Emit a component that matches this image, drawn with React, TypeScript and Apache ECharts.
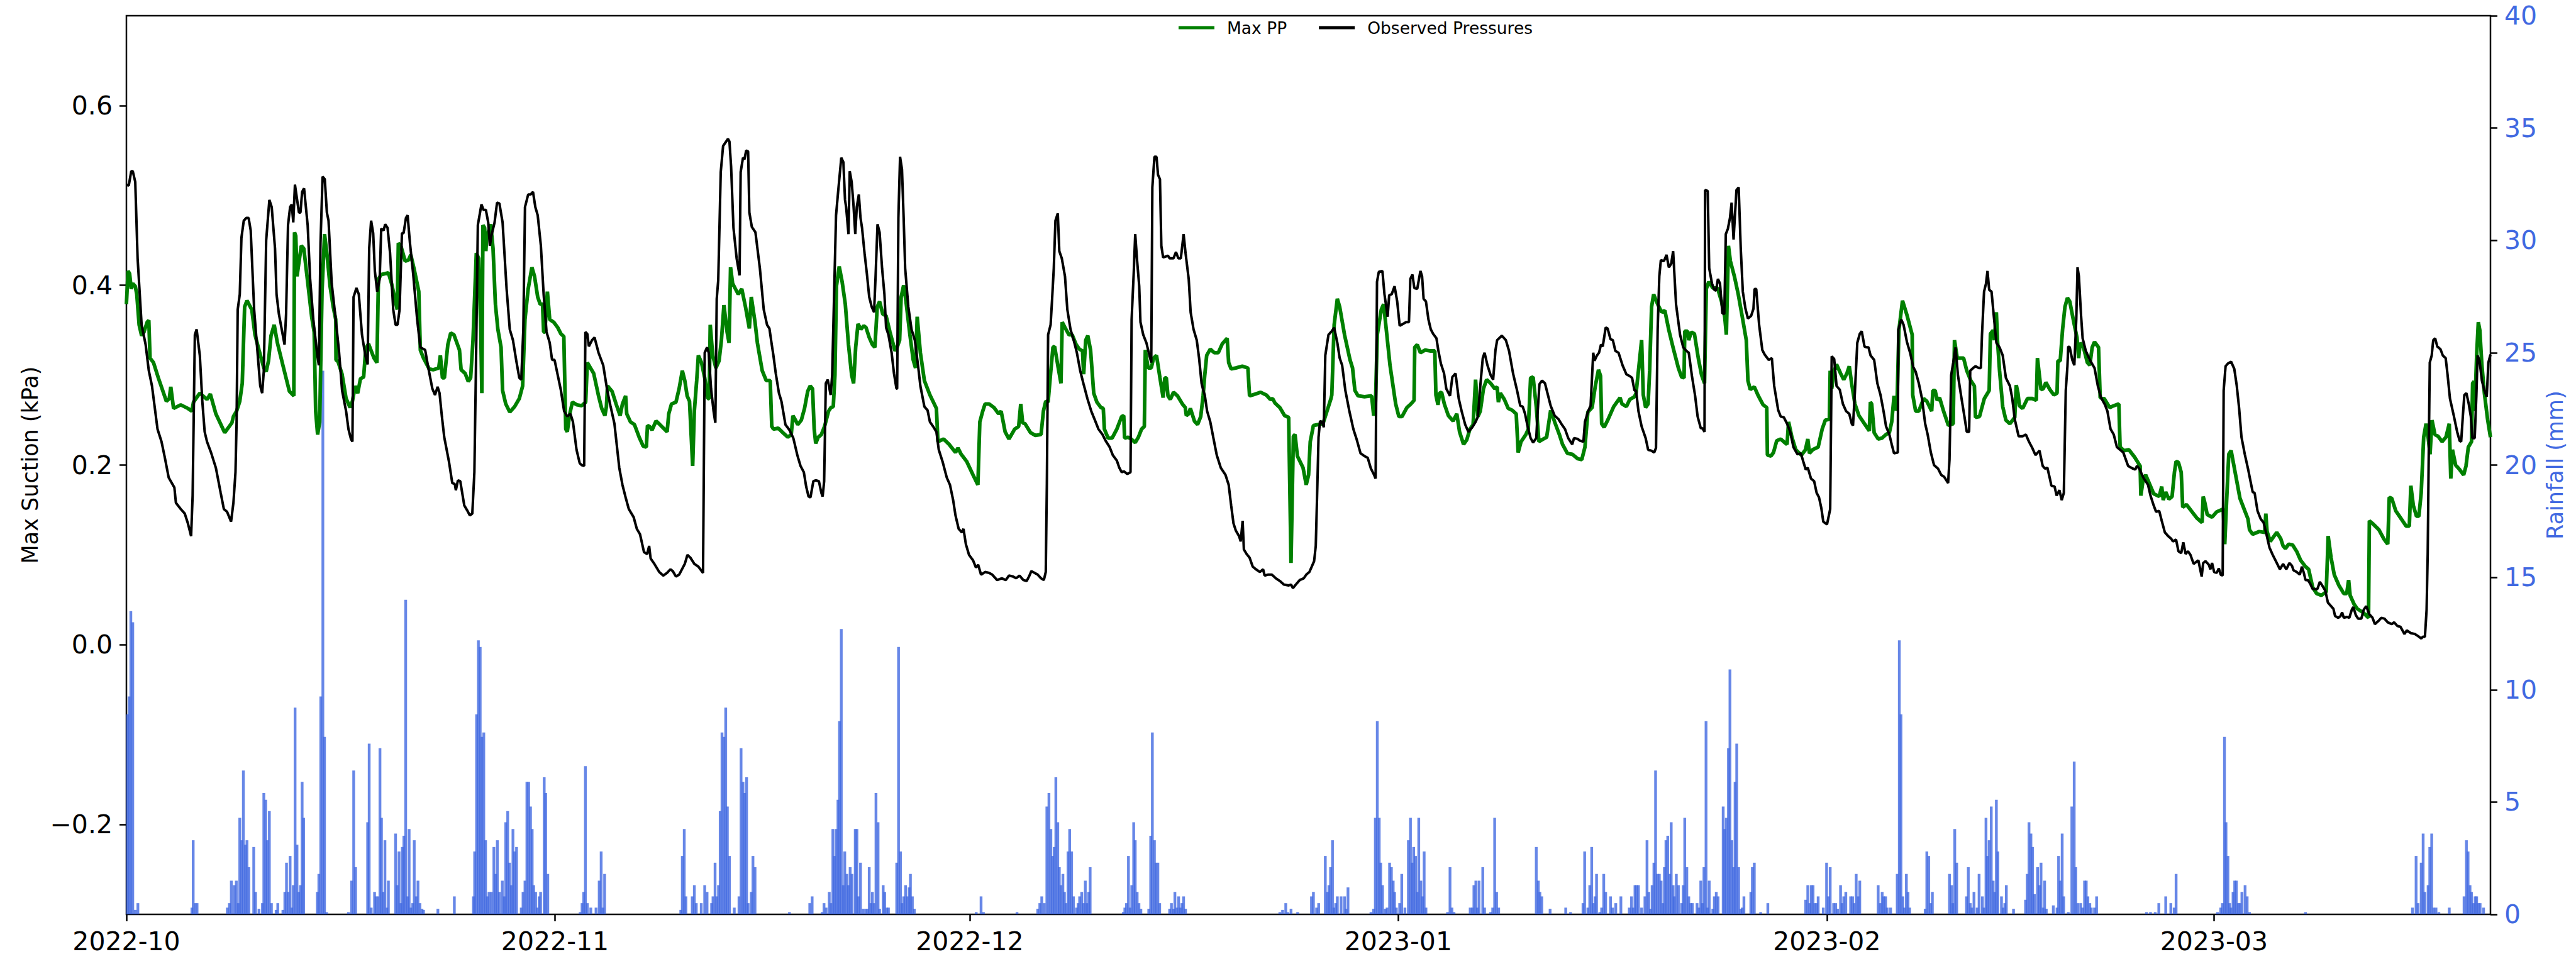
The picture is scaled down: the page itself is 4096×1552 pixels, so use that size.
import React, { useEffect, useRef } from "react";
import * as echarts from "echarts";

// x values are days since 2022-10-01 00:00
const monthTickDays = [0, 31, 61, 92, 123, 151];
const monthTickLabels = ["2022-10", "2022-11", "2022-12", "2023-01", "2023-02", "2023-03"];
const leftTicks = [-0.2, 0, 0.2, 0.4, 0.6];
const rightTicks = [0, 5, 10, 15, 20, 25, 30, 35, 40];

const observedPressures: [number, number][] = [
[0,0.512],[0.17,0.511],[0.35,0.527],[0.46,0.527],[0.64,0.515],[0.81,0.43],[1.1,0.356],[1.39,0.334],[1.62,0.305],[1.85,0.288],[2.25,0.24],[2.54,0.226],[2.77,0.209],[3.06,0.186],[3.47,0.175],[3.58,0.158],[3.93,0.151],[4.22,0.146],[4.45,0.135],[4.68,0.121],[4.79,0.166],[4.95,0.345],[5.08,0.351],[5.31,0.322],[5.49,0.271],[5.66,0.237],[5.83,0.226],[6.12,0.214],[6.47,0.197],[6.82,0.169],[7.05,0.151],[7.28,0.148],[7.57,0.137],[7.74,0.158],[7.89,0.192],[7.97,0.248],[8.05,0.373],[8.2,0.39],[8.32,0.453],[8.49,0.472],[8.67,0.475],[8.84,0.475],[8.99,0.461],[9.24,0.373],[9.47,0.328],[9.68,0.288],[9.82,0.28],[9.94,0.305],[10.11,0.45],[10.34,0.495],[10.51,0.487],[10.75,0.441],[10.86,0.39],[11.03,0.368],[11.44,0.334],[11.55,0.368],[11.69,0.467],[11.84,0.487],[11.96,0.49],[12.07,0.47],[12.19,0.512],[12.48,0.481],[12.59,0.481],[12.71,0.504],[12.85,0.508],[13.11,0.467],[13.29,0.407],[13.52,0.362],[13.81,0.322],[13.92,0.311],[14.04,0.447],[14.19,0.521],[14.35,0.518],[14.5,0.481],[14.62,0.472],[14.85,0.402],[15.14,0.362],[15.37,0.328],
[15.6,0.283],[15.89,0.26],[16.06,0.24],[16.24,0.229],[16.35,0.226],[16.43,0.387],[16.64,0.397],[16.81,0.39],[17.04,0.345],[17.28,0.322],[17.45,0.312],[17.56,0.441],[17.7,0.472],[17.85,0.458],[17.97,0.416],[18.14,0.393],[18.32,0.407],[18.43,0.463],[18.6,0.461],[18.72,0.468],[18.89,0.464],[19.07,0.436],[19.3,0.373],[19.47,0.356],[19.61,0.356],[19.76,0.373],[19.93,0.458],[20.05,0.458],[20.22,0.475],[20.34,0.478],[20.51,0.447],[20.74,0.413],[21.03,0.362],[21.26,0.331],[21.61,0.328],[21.84,0.308],[22.13,0.285],[22.32,0.278],[22.51,0.287],[22.65,0.28],[22.82,0.254],[22.99,0.231],[23.34,0.203],[23.57,0.18],[23.75,0.179],[23.83,0.172],[23.98,0.183],[24.15,0.182],[24.44,0.155],[24.67,0.149],[24.84,0.144],[25.02,0.146],[25.17,0.192],[25.28,0.305],[25.42,0.467],[25.68,0.49],[25.83,0.484],[26,0.484],[26.17,0.47],[26.29,0.444],[26.4,0.455],[26.63,0.47],[26.81,0.492],[26.98,0.491],[27.21,0.47],[27.5,0.396],[27.73,0.351],[27.96,0.339],[28.19,0.317],[28.42,0.297],[28.56,0.295],[28.71,0.351],[28.83,0.487],[29.06,0.501],[29.23,0.501],[29.41,0.504],[29.58,0.487],[29.75,0.478],[29.98,0.444],[30.18,0.39],[30.39,0.348],[30.62,0.336],[30.79,0.317],[30.97,0.317],
[31.2,0.3],[31.43,0.283],[31.66,0.26],[31.89,0.254],[32.12,0.257],[32.3,0.248],[32.56,0.217],[32.79,0.202],[32.93,0.2],[33.11,0.199],[33.2,0.348],[33.34,0.346],[33.45,0.332],[33.68,0.339],[33.86,0.342],[34.15,0.325],[34.49,0.311],[34.78,0.283],[35.01,0.266],[35.3,0.246],[35.65,0.197],[35.88,0.178],[36.11,0.164],[36.34,0.151],[36.69,0.142],[36.92,0.129],[37.15,0.123],[37.44,0.103],[37.67,0.101],[37.81,0.11],[37.92,0.096],[38.19,0.09],[38.54,0.081],[38.83,0.077],[39.11,0.08],[39.35,0.084],[39.52,0.082],[39.75,0.076],[39.98,0.078],[40.39,0.09],[40.58,0.1],[40.79,0.097],[41.08,0.09],[41.37,0.087],[41.71,0.08],[41.77,0.203],[41.83,0.325],[42,0.331],[42.12,0.325],[42.29,0.285],[42.47,0.26],[42.6,0.247],[42.7,0.385],[42.81,0.406],[42.99,0.526],[43.16,0.555],[43.51,0.563],[43.62,0.56],[43.74,0.532],[43.91,0.464],[44.14,0.43],[44.35,0.411],[44.43,0.526],[44.6,0.542],[44.7,0.54],[44.83,0.55],[44.97,0.549],[45.06,0.481],[45.24,0.465],[45.5,0.459],[45.82,0.419],[46.1,0.373],[46.34,0.356],[46.51,0.352],[46.68,0.334],
[46.8,0.322],[46.97,0.302],[47.2,0.28],[47.38,0.271],[47.67,0.245],[47.96,0.239],[48.24,0.23],[48.53,0.211],[48.76,0.199],[49,0.192],[49.17,0.176],[49.34,0.165],[49.48,0.164],[49.69,0.182],[49.86,0.183],[50.09,0.182],[50.27,0.169],[50.36,0.165],[50.47,0.182],[50.59,0.291],[50.73,0.295],[50.94,0.278],[51.05,0.3],[51.19,0.39],[51.33,0.478],[51.48,0.504],[51.71,0.542],[51.86,0.537],[51.98,0.495],[52.06,0.487],[52.23,0.457],[52.32,0.527],[52.46,0.515],[52.58,0.492],[52.72,0.457],[52.83,0.487],[52.98,0.501],[53.1,0.475],[53.21,0.464],[53.39,0.436],[53.56,0.413],[53.73,0.387],[53.91,0.376],[54.08,0.37],[54.19,0.41],[54.33,0.468],[54.48,0.459],[54.66,0.419],[54.83,0.39],[54.95,0.353],[55.12,0.345],[55.35,0.325],[55.52,0.302],[55.7,0.285],[55.75,0.285],[55.84,0.475],[55.96,0.543],[56.1,0.529],[56.22,0.475],[56.33,0.419],[56.56,0.376],[56.79,0.351],[57.03,0.339],[57.26,0.311],[57.43,0.288],[57.72,0.265],[57.95,0.261],[58.12,0.248],[58.35,0.243],[58.59,0.237],[58.76,0.217],[59.05,0.203],[59.34,0.186],[59.57,0.178],[59.8,0.161],[59.97,0.144],[60.2,0.129],[60.43,0.125],[60.55,0.129],[60.72,0.112],[60.95,0.1],[61.24,0.094],[61.45,0.086],[61.61,0.089],[61.82,0.078],[62.11,0.081],
[62.4,0.08],[62.63,0.078],[62.98,0.072],[63.32,0.074],[63.61,0.072],[63.84,0.077],[64.13,0.076],[64.36,0.074],[64.6,0.077],[64.88,0.072],[65.12,0.071],[65.29,0.076],[65.46,0.082],[65.69,0.08],[65.92,0.078],[66.16,0.074],[66.36,0.072],[66.5,0.081],[66.58,0.18],[66.67,0.345],[66.85,0.356],[66.96,0.385],[67.08,0.419],[67.2,0.472],[67.37,0.48],[67.48,0.438],[67.66,0.43],[67.89,0.41],[68.06,0.373],[68.29,0.351],[68.52,0.339],[68.75,0.325],[68.99,0.305],[69.22,0.291],[69.51,0.274],[69.79,0.26],[70.08,0.249],[70.31,0.24],[70.6,0.234],[70.83,0.227],[71.12,0.22],[71.35,0.211],[71.64,0.205],[71.82,0.197],[71.99,0.192],[72.16,0.193],[72.39,0.19],[72.63,0.192],[72.71,0.362],[72.86,0.413],[72.97,0.457],[73.11,0.427],[73.26,0.399],[73.35,0.359],[73.55,0.345],[73.78,0.336],[73.95,0.325],[74.13,0.314],[74.21,0.509],[74.36,0.543],[74.51,0.543],[74.62,0.523],[74.76,0.518],[74.86,0.444],[74.99,0.431],[75.34,0.433],[75.46,0.43],[75.74,0.43],[75.92,0.437],[76.09,0.43],[76.27,0.43],[76.47,0.457],[76.61,0.436],[76.84,0.407],[76.98,0.37],[77.19,0.351],[77.42,0.339],[77.59,0.319],[77.77,0.291],[77.88,0.284],
[78,0.278],[78.17,0.26],[78.4,0.248],[78.64,0.229],[78.87,0.211],[79.16,0.197],[79.5,0.189],[79.73,0.178],[79.91,0.155],[80.08,0.135],[80.25,0.127],[80.48,0.121],[80.6,0.115],[80.74,0.138],[80.83,0.106],[81.03,0.101],[81.24,0.097],[81.47,0.087],[81.7,0.084],[81.99,0.081],[82.22,0.084],[82.33,0.077],[82.56,0.078],[82.85,0.078],[83.14,0.074],[83.43,0.071],[83.72,0.067],[84.07,0.066],[84.24,0.067],[84.38,0.063],[84.59,0.067],[84.87,0.072],[85.16,0.074],[85.34,0.078],[85.57,0.081],[85.74,0.087],[85.91,0.093],[86.03,0.11],[86.15,0.18],[86.23,0.231],[86.34,0.249],[86.49,0.248],[86.61,0.242],[86.72,0.322],[86.95,0.345],[87.19,0.349],[87.36,0.353],[87.59,0.336],[87.76,0.319],[87.94,0.311],[88.17,0.283],[88.46,0.26],[88.75,0.24],[88.98,0.229],[89.27,0.213],[89.55,0.21],[89.79,0.208],[90.02,0.196],[90.25,0.189],[90.36,0.185],[90.46,0.404],[90.59,0.415],[90.85,0.416],[91,0.39],[91.23,0.365],[91.34,0.389],[91.52,0.39],[91.73,0.399],[91.92,0.382],[92.1,0.355],[92.33,0.357],[92.56,0.359],[92.77,0.359],[92.87,0.407],[93.02,0.412],[93.16,0.397],[93.37,0.396],
[93.6,0.416],[93.72,0.41],[93.83,0.385],[94,0.382],[94.18,0.362],[94.35,0.351],[94.52,0.346],[94.76,0.341],[94.89,0.328],[95.08,0.313],[95.31,0.302],[95.47,0.285],[95.74,0.277],[95.91,0.298],[96.14,0.302],[96.37,0.274],[96.58,0.26],[96.84,0.245],[97.07,0.237],[97.35,0.242],[97.59,0.248],[97.76,0.254],[97.93,0.288],[98.11,0.319],[98.24,0.325],[98.45,0.311],[98.68,0.3],[98.86,0.295],[99.03,0.328],[99.15,0.339],[99.49,0.344],[99.78,0.339],[100.01,0.327],[100.3,0.302],[100.59,0.283],[100.82,0.266],[101,0.265],[101.17,0.257],[101.34,0.244],[101.57,0.23],[101.75,0.225],[101.98,0.23],[102.06,0.254],[102.21,0.29],[102.4,0.294],[102.61,0.291],[102.79,0.28],[103.02,0.266],[103.31,0.255],[103.59,0.251],[103.83,0.245],[104.06,0.24],[104.29,0.23],[104.58,0.223],[104.71,0.23],[104.98,0.229],[105.15,0.227],[105.39,0.226],[105.5,0.248],[105.73,0.26],[105.91,0.266],[106.1,0.325],[106.19,0.316],[106.37,0.322],[106.52,0.325],[106.66,0.334],[106.79,0.332],[107,0.353],[107.14,0.352],[107.35,0.34],[107.52,0.339],[107.7,0.327],[107.93,0.325],[108.22,0.311],[108.5,0.301],[108.74,0.299],[108.91,0.297],[109.08,0.283],
[109.2,0.283],[109.37,0.26],[109.6,0.243],[109.89,0.23],[110.07,0.217],[110.3,0.216],[110.51,0.214],[110.64,0.219],[110.76,0.351],[110.88,0.41],[110.99,0.428],[111.22,0.427],[111.4,0.434],[111.57,0.42],[111.74,0.424],[111.88,0.438],[112.09,0.379],[112.38,0.345],[112.61,0.331],[112.84,0.327],[113.01,0.325],[113.24,0.299],[113.47,0.277],[113.65,0.254],[113.88,0.241],[114,0.241],[114.15,0.237],[114.19,0.506],[114.38,0.505],[114.49,0.419],[114.69,0.402],[114.86,0.395],[114.98,0.394],[115.12,0.407],[115.27,0.402],[115.44,0.369],[115.58,0.368],[115.69,0.457],[115.84,0.463],[115.99,0.475],[116.11,0.492],[116.25,0.451],[116.46,0.506],[116.62,0.509],[116.77,0.441],[116.92,0.393],[117.11,0.374],[117.29,0.363],[117.52,0.366],[117.69,0.374],[117.77,0.396],[117.89,0.396],[118.1,0.356],[118.33,0.328],[118.5,0.323],[118.79,0.317],[119.02,0.319],[119.19,0.288],[119.48,0.261],[119.66,0.254],[119.89,0.253],[120.12,0.246],[120.35,0.237],[120.58,0.22],[120.87,0.212],[121.12,0.213],[121.31,0.203],[121.47,0.195],[121.62,0.197],[121.85,0.185],[122.08,0.182],[122.26,0.169],[122.43,0.164],[122.6,0.152],[122.74,0.137],[123.01,0.134],[123.24,0.151],[123.35,0.321],[123.53,0.318],[123.7,0.288],[123.93,0.284],[124.16,0.268],[124.39,0.26],[124.62,0.257],
[124.8,0.246],[124.89,0.244],[125.03,0.282],[125.2,0.336],[125.38,0.346],[125.52,0.349],[125.72,0.332],[125.84,0.331],[126.01,0.331],[126.16,0.322],[126.42,0.317],[126.65,0.291],[126.88,0.278],[127.11,0.259],[127.28,0.243],[127.52,0.234],[127.69,0.223],[127.86,0.213],[128.13,0.214],[128.17,0.351],[128.38,0.362],[128.55,0.356],[128.79,0.337],[129.02,0.325],[129.25,0.309],[129.42,0.304],[129.65,0.291],[129.88,0.274],[130.11,0.246],[130.29,0.234],[130.52,0.214],[130.75,0.2],[131.04,0.196],[131.27,0.189],[131.48,0.187],[131.77,0.18],[131.87,0.206],[131.99,0.3],[132.14,0.314],[132.31,0.331],[132.48,0.3],[132.71,0.277],[132.95,0.254],[133.12,0.237],[133.29,0.237],[133.37,0.305],[133.58,0.308],[133.75,0.31],[133.99,0.308],[134.14,0.308],[134.22,0.345],[134.37,0.393],[134.51,0.402],[134.62,0.416],[134.74,0.395],[134.91,0.393],[135.08,0.365],[135.26,0.336],[135.49,0.331],[135.72,0.322],[135.95,0.297],[136.24,0.288],[136.41,0.274],[136.59,0.251],[136.87,0.232],[137.16,0.232],[137.39,0.234],[137.62,0.226],[137.86,0.219],[138.09,0.211],[138.26,0.214],[138.38,0.216],[138.61,0.199],[138.78,0.196],[138.95,0.197],[139.13,0.185],[139.24,0.177],[139.47,0.176],[139.62,0.166],[139.82,0.172],[139.99,0.161],[140.14,0.169],[140.28,0.283],
[140.4,0.31],[140.46,0.332],[140.57,0.331],[140.75,0.317],[140.9,0.311],[141.04,0.362],[141.13,0.42],[141.23,0.41],[141.38,0.368],[141.5,0.341],[141.73,0.327],[142.02,0.317],[142.36,0.308],[142.6,0.288],[142.83,0.275],[143.12,0.267],[143.29,0.26],[143.52,0.24],[143.75,0.234],[143.98,0.22],[144.21,0.217],[144.44,0.214],[144.79,0.199],[145.14,0.196],[145.31,0.195],[145.43,0.199],[145.6,0.196],[145.89,0.186],[146.06,0.182],[146.23,0.178],[146.41,0.166],[146.64,0.155],[146.81,0.148],[147.04,0.149],[147.22,0.138],[147.45,0.125],[147.68,0.121],[147.91,0.118],[148.03,0.115],[148.26,0.117],[148.43,0.104],[148.63,0.102],[148.78,0.114],[148.95,0.101],[149.12,0.104],[149.3,0.1],[149.53,0.09],[149.87,0.094],[150.11,0.076],[150.22,0.091],[150.39,0.093],[150.63,0.089],[150.74,0.084],[150.86,0.091],[151.01,0.081],[151.2,0.08],[151.35,0.085],[151.49,0.078],[151.63,0.077],[151.7,0.283],[151.84,0.31],[152.01,0.313],[152.24,0.315],[152.47,0.307],[152.65,0.288],[152.82,0.263],[152.99,0.231],[153.23,0.212],[153.46,0.196],[153.63,0.183],[153.8,0.17],[153.94,0.169],[154.15,0.149],[154.38,0.14],[154.59,0.136],[154.78,0.124],[155.02,0.108],[155.25,0.1],[155.48,0.093],[155.77,0.084],
[156,0.09],[156.23,0.084],[156.46,0.091],[156.64,0.088],[156.75,0.083],[156.98,0.081],[157.21,0.078],[157.36,0.087],[157.5,0.08],[157.62,0.072],[157.79,0.072],[157.96,0.068],[158.14,0.062],[158.31,0.062],[158.48,0.062],[158.66,0.07],[158.83,0.066],[159.06,0.06],[159.24,0.047],[159.47,0.043],[159.64,0.04],[159.76,0.032],[159.99,0.03],[160.16,0.032],[160.27,0.036],[160.39,0.03],[160.62,0.031],[160.79,0.03],[160.97,0.039],[161.08,0.042],[161.26,0.033],[161.43,0.029],[161.66,0.029],[161.83,0.039],[162.01,0.043],[162.24,0.034],[162.47,0.03],[162.64,0.023],[162.93,0.027],[163.11,0.03],[163.34,0.029],[163.57,0.025],[163.86,0.023],[164.03,0.025],[164.26,0.021],[164.49,0.02],[164.78,0.012],[164.95,0.016],[165.24,0.013],[165.53,0.012],[165.82,0.009],[166,0.007],[166.11,0.009],[166.26,0.009],[166.38,0.039],[166.46,0.101],[166.54,0.22],[166.61,0.314],[166.75,0.322],[166.86,0.339],[167,0.341],[167.15,0.332],[167.38,0.329],[167.55,0.322],[167.76,0.319],[167.9,0.3],[168.07,0.274],[168.36,0.254],[168.59,0.237],[168.77,0.227],[168.88,0.226],[169,0.254],[169.11,0.278],[169.26,0.28],[169.43,0.268],[169.58,0.254],[169.69,0.23],[169.86,0.23],[169.98,0.277],[170.07,0.322],[170.21,0.316],[170.38,0.294],[170.56,0.283],[170.73,0.276],[170.85,0.314],[171,0.323]
];

const maxPP: [number, number][] = [
[0,0.379],[0.12,0.416],[0.23,0.413],[0.35,0.396],[0.46,0.402],[0.64,0.399],[0.75,0.39],[0.92,0.356],[1.1,0.344],[1.27,0.348],[1.5,0.359],[1.62,0.361],[1.71,0.319],[1.96,0.314],[2.31,0.297],[2.89,0.271],[3.1,0.274],[3.21,0.287],[3.41,0.263],[3.93,0.267],[4.45,0.263],[4.74,0.26],[4.85,0.27],[5.31,0.28],[5.83,0.273],[6.07,0.279],[6.47,0.257],[7.11,0.236],[7.63,0.247],[7.74,0.254],[7.97,0.26],[8.2,0.271],[8.38,0.291],[8.55,0.376],[8.72,0.383],[9.07,0.373],[9.3,0.345],[9.59,0.328],[9.94,0.308],[10.11,0.304],[10.28,0.316],[10.46,0.344],[10.69,0.356],[10.92,0.336],[11.32,0.311],[11.79,0.282],[12.11,0.277],[12.16,0.459],[12.25,0.455],[12.34,0.41],[12.42,0.419],[12.65,0.444],[12.83,0.441],[13.17,0.396],[13.4,0.365],[13.58,0.348],[13.69,0.26],[13.83,0.234],[13.98,0.248],[14.15,0.393],[14.33,0.457],[14.5,0.436],[14.73,0.399],[14.96,0.376],[15.14,0.362],[15.16,0.317],[15.31,0.315],
[15.6,0.301],[15.89,0.274],[16.18,0.264],[16.35,0.271],[16.55,0.288],[16.73,0.28],[16.93,0.296],[17.16,0.298],[17.31,0.329],[17.51,0.335],[17.91,0.319],[18.12,0.314],[18.23,0.407],[18.43,0.412],[18.72,0.413],[18.95,0.414],[19.18,0.402],[19.59,0.373],[19.67,0.447],[19.87,0.443],[20.16,0.427],[20.4,0.428],[20.57,0.434],[20.8,0.419],[21.15,0.393],[21.26,0.328],[21.49,0.319],[21.9,0.307],[22.19,0.306],[22.59,0.308],[22.71,0.322],[22.86,0.297],[23,0.297],[23.25,0.334],[23.46,0.347],[23.69,0.345],[24.09,0.328],[24.21,0.306],[24.5,0.302],[24.73,0.293],[24.9,0.297],[25.07,0.339],[25.31,0.436],[25.48,0.43],[25.63,0.351],[25.71,0.28],[25.79,0.467],[25.91,0.464],[26,0.438],[26.06,0.453],[26.35,0.468],[26.52,0.441],[26.69,0.379],[26.87,0.351],[27.1,0.331],[27.21,0.283],[27.44,0.268],[27.73,0.259],[28.08,0.265],[28.42,0.274],[28.66,0.288],[28.83,0.362],[29.06,0.396],[29.33,0.42],[29.52,0.41],[29.75,0.387],[29.93,0.379],[30.1,0.379],[30.18,0.348],[30.27,0.348],[30.45,0.393],[30.62,0.362],[30.91,0.359],
[31.2,0.353],[31.43,0.346],[31.64,0.343],[31.78,0.24],[31.89,0.237],[32.07,0.257],[32.26,0.27],[32.59,0.267],[32.93,0.266],[33.22,0.27],[33.34,0.314],[33.57,0.308],[33.8,0.302],[34.15,0.277],[34.38,0.263],[34.61,0.255],[34.72,0.265],[34.8,0.288],[35.13,0.282],[35.42,0.268],[35.71,0.255],[35.88,0.268],[36.11,0.277],[36.19,0.257],[36.46,0.248],[36.75,0.245],[37.09,0.231],[37.38,0.221],[37.61,0.22],[37.69,0.244],[37.84,0.243],[38.02,0.239],[38.31,0.249],[38.59,0.245],[39.11,0.237],[39.23,0.257],[39.43,0.268],[39.75,0.27],[39.98,0.285],[40.21,0.305],[40.39,0.294],[40.56,0.277],[40.73,0.271],[40.96,0.199],[41.08,0.26],[41.25,0.294],[41.37,0.322],[41.6,0.314],[41.83,0.297],[42.06,0.274],[42.15,0.274],[42.23,0.356],[42.41,0.322],[42.64,0.308],[42.87,0.316],[43.04,0.339],[43.22,0.378],[43.45,0.348],[43.59,0.336],[43.7,0.42],[43.85,0.402],[44.02,0.397],[44.26,0.39],[44.51,0.396],[44.78,0.376],[45.06,0.352],[45.2,0.387],[45.47,0.359],[45.64,0.336],[45.99,0.305],[46.28,0.294],[46.57,0.294],[46.68,0.243],
[46.8,0.24],[47.15,0.241],[47.49,0.236],[47.84,0.231],[48.09,0.234],[48.21,0.255],[48.36,0.251],[48.56,0.245],[48.82,0.25],[49.05,0.263],[49.28,0.282],[49.46,0.288],[49.63,0.285],[49.75,0.24],[49.86,0.224],[50.04,0.231],[50.27,0.234],[50.5,0.243],[50.79,0.26],[50.96,0.264],[51.13,0.265],[51.25,0.3],[51.36,0.399],[51.56,0.421],[51.77,0.404],[52,0.379],[52.23,0.334],[52.46,0.3],[52.6,0.291],[52.75,0.331],[52.92,0.357],[53.13,0.351],[53.33,0.355],[53.5,0.353],[53.73,0.342],[53.96,0.334],[54.14,0.331],[54.31,0.376],[54.48,0.382],[54.71,0.368],[54.95,0.366],[55.23,0.348],[55.6,0.327],[55.75,0.331],[55.93,0.339],[56.04,0.387],[56.22,0.4],[56.39,0.382],[56.68,0.344],[56.91,0.317],[57.08,0.308],[57.2,0.365],[57.43,0.325],[57.72,0.294],[58.12,0.278],[58.59,0.263],[58.7,0.226],[59.11,0.229],[59.51,0.223],[59.97,0.214],[60.15,0.219],[60.38,0.212],[60.78,0.204],[61.24,0.189],[61.59,0.178],[61.73,0.248],[61.94,0.26],[62.11,0.268],
[62.4,0.268],[62.75,0.264],[63.09,0.257],[63.27,0.26],[63.56,0.237],[63.84,0.229],[64.25,0.24],[64.54,0.243],[64.69,0.268],[64.83,0.247],[65,0.246],[65.4,0.236],[65.75,0.233],[66.16,0.234],[66.33,0.26],[66.5,0.271],[66.67,0.27],[66.85,0.302],[67.02,0.331],[67.14,0.332],[67.37,0.311],[67.6,0.291],[67.69,0.359],[67.89,0.353],[68.18,0.345],[68.41,0.345],[68.7,0.334],[68.93,0.329],[69.16,0.327],[69.24,0.301],[69.39,0.339],[69.54,0.344],[69.74,0.328],[69.97,0.28],[70.2,0.27],[70.49,0.264],[70.66,0.263],[70.74,0.24],[71.01,0.23],[71.3,0.23],[71.64,0.24],[71.99,0.254],[72.14,0.255],[72.2,0.23],[72.45,0.231],[72.68,0.229],[72.97,0.225],[73.2,0.231],[73.43,0.24],[73.63,0.243],[73.7,0.328],[73.9,0.308],[74.13,0.308],[74.3,0.319],[74.51,0.322],[74.76,0.297],[74.99,0.275],[75.11,0.297],[75.22,0.297],[75.34,0.277],[75.51,0.273],[75.74,0.281],[76.03,0.277],[76.38,0.268],[76.59,0.264],[76.67,0.255],[76.84,0.257],[76.96,0.263],[77.25,0.249],[77.48,0.245],[77.71,0.254],[77.88,0.277],
[78,0.3],[78.14,0.322],[78.4,0.329],[78.69,0.325],[78.98,0.325],[79.27,0.335],[79.62,0.341],[79.73,0.314],[79.91,0.307],[80.25,0.308],[80.72,0.31],[81.12,0.308],[81.24,0.277],[81.47,0.278],[82.04,0.281],[82.45,0.278],[82.74,0.273],[82.91,0.274],[83.08,0.269],[83.43,0.264],[83.78,0.255],[84.07,0.253],[84.24,0.091],[84.41,0.232],[84.53,0.234],[84.7,0.21],[85.11,0.197],[85.34,0.178],[85.51,0.189],[85.63,0.226],[85.86,0.244],[86.2,0.245],[86.55,0.246],[86.84,0.26],[87.13,0.274],[87.19,0.278],[87.36,0.356],[87.59,0.385],[87.76,0.376],[88.11,0.345],[88.51,0.317],[88.69,0.308],[88.86,0.283],[89.09,0.277],[89.55,0.276],[90.07,0.277],[90.22,0.255],[90.34,0.263],[90.48,0.345],[90.77,0.373],[90.94,0.379],[91.17,0.345],[91.4,0.311],[91.81,0.268],[92.04,0.254],[92.27,0.254],[92.62,0.264],[92.91,0.268],[93.14,0.272],[93.19,0.331],[93.37,0.334],
[93.6,0.325],[93.95,0.328],[94.29,0.327],[94.64,0.327],[94.72,0.278],[94.87,0.267],[94.99,0.28],[95.13,0.281],[95.33,0.268],[95.62,0.255],[95.97,0.249],[96.23,0.257],[96.43,0.237],[96.72,0.223],[96.95,0.228],[97.18,0.24],[97.41,0.245],[97.59,0.295],[97.76,0.254],[97.93,0.26],[98.16,0.285],[98.39,0.295],[98.68,0.291],[98.97,0.285],[99.15,0.287],[99.24,0.27],[99.38,0.28],[99.67,0.273],[99.95,0.263],[100.24,0.261],[100.53,0.257],[100.67,0.214],[100.88,0.226],[101.23,0.234],[101.4,0.24],[101.57,0.297],[101.75,0.298],[101.98,0.265],[102.17,0.226],[102.5,0.229],[102.73,0.231],[103.02,0.261],[103.31,0.248],[103.65,0.234],[103.88,0.223],[104.23,0.213],[104.58,0.212],[104.98,0.207],[105.27,0.206],[105.5,0.22],[105.71,0.259],[106.02,0.264],[106.25,0.288],[106.48,0.306],[106.63,0.299],[106.71,0.246],[106.89,0.242],[107.18,0.251],[107.58,0.265],[108.04,0.275],[108.18,0.268],[108.5,0.265],[108.74,0.273],[109.08,0.276],
[109.2,0.28],[109.37,0.305],[109.6,0.339],[109.72,0.278],[109.89,0.264],[110.07,0.268],[110.18,0.305],[110.32,0.376],[110.47,0.39],[110.76,0.379],[111.05,0.37],[111.28,0.372],[111.57,0.35],[111.92,0.328],[112.26,0.308],[112.49,0.298],[112.67,0.297],[112.72,0.349],[112.92,0.349],[113.01,0.339],[113.19,0.348],[113.42,0.346],[113.71,0.318],[113.94,0.3],[114.15,0.291],[114.28,0.396],[114.46,0.404],[114.75,0.397],[115.09,0.397],[115.38,0.382],[115.61,0.365],[115.73,0.345],[115.88,0.444],[116.02,0.427],[116.31,0.41],[116.59,0.39],[116.88,0.365],[117.17,0.339],[117.29,0.294],[117.46,0.284],[117.75,0.287],[118.04,0.277],[118.39,0.267],[118.65,0.264],[118.7,0.211],[118.96,0.21],[119.14,0.214],[119.37,0.227],[119.66,0.229],[119.95,0.225],[120.12,0.223],[120.23,0.248],[120.47,0.231],[120.75,0.217],[121.16,0.211],[121.45,0.217],[121.62,0.229],[121.74,0.213],[121.97,0.217],[122.37,0.22],[122.66,0.24],[122.89,0.25],[123.18,0.251],[123.24,0.305],[123.35,0.285],[123.53,0.305],[123.7,0.312],[123.99,0.302],[124.22,0.295],[124.45,0.302],[124.62,0.31],
[124.8,0.29],[125.03,0.268],[125.32,0.255],[125.72,0.246],[126.07,0.238],[126.15,0.27],[126.24,0.268],[126.42,0.236],[126.71,0.229],[126.99,0.23],[127.28,0.234],[127.52,0.236],[127.69,0.248],[127.86,0.277],[127.94,0.261],[128.07,0.265],[128.21,0.35],[128.47,0.383],[128.79,0.367],[129.17,0.345],[129.21,0.278],[129.42,0.26],[129.65,0.26],[130,0.274],[130.23,0.271],[130.58,0.26],[130.67,0.283],[130.83,0.283],[130.98,0.272],[131.15,0.275],[131.44,0.26],[131.79,0.244],[132.14,0.246],[132.23,0.339],[132.43,0.319],[132.71,0.319],[132.89,0.319],[133.12,0.305],[133.41,0.294],[133.67,0.288],[133.75,0.253],[134.04,0.254],[134.39,0.274],[134.74,0.283],[134.83,0.346],[135.03,0.35],[135.11,0.339],[135.26,0.37],[135.34,0.339],[135.49,0.305],[135.72,0.265],[135.95,0.25],[136.24,0.246],[136.59,0.253],[136.7,0.289],[136.82,0.28],[136.93,0.266],[137.16,0.263],[137.51,0.274],[137.86,0.274],[138.15,0.272],[138.23,0.319],[138.49,0.284],[138.66,0.285],[138.84,0.292],[139.13,0.284],[139.42,0.278],[139.65,0.28],[139.71,0.316],[139.88,0.316],[140.05,0.351],[140.22,0.376],
[140.4,0.386],[140.57,0.382],[140.86,0.359],[141.09,0.342],[141.21,0.319],[141.32,0.336],[141.56,0.331],[141.84,0.314],[142.02,0.311],[142.19,0.331],[142.36,0.337],[142.65,0.331],[142.77,0.275],[143.06,0.274],[143.46,0.264],[143.75,0.266],[144.12,0.268],[144.21,0.22],[144.5,0.216],[144.85,0.217],[145.25,0.209],[145.66,0.199],[145.71,0.166],[145.89,0.185],[146.06,0.189],[146.23,0.183],[146.64,0.168],[147.04,0.165],[147.22,0.176],[147.33,0.161],[147.51,0.17],[147.74,0.162],[147.97,0.165],[148.14,0.192],[148.26,0.204],[148.43,0.203],[148.63,0.192],[148.74,0.153],[149.01,0.156],[149.41,0.148],[149.76,0.141],[150.14,0.136],[150.22,0.165],[150.34,0.158],[150.51,0.145],[150.86,0.142],[151.2,0.148],[151.67,0.151],[151.78,0.112],[151.9,0.155],[152.07,0.212],[152.24,0.216],[152.53,0.192],[152.88,0.163],[153.23,0.149],[153.46,0.14],[153.57,0.128],[153.8,0.123],[154.27,0.126],[154.67,0.125],[154.75,0.146],[154.84,0.126],[155.07,0.115],[155.54,0.125],[155.83,0.118],
[156,0.11],[156.17,0.107],[156.4,0.112],[156.69,0.111],[156.98,0.104],[157.27,0.094],[157.62,0.087],[157.85,0.084],[158.14,0.064],[158.43,0.057],[158.77,0.055],[159.12,0.059],[159.26,0.121],[159.47,0.097],[159.7,0.078],[160.04,0.066],[160.39,0.057],[160.6,0.057],[160.74,0.072],[160.85,0.055],[161.14,0.045],[161.37,0.04],[161.78,0.036],[162.18,0.03],[162.24,0.138],[162.47,0.135],[162.93,0.128],[163.28,0.118],[163.57,0.112],[163.68,0.164],[163.86,0.163],[164.15,0.149],[164.55,0.14],[164.9,0.132],[165.13,0.132],[165.24,0.177],[165.42,0.155],[165.65,0.143],[165.82,0.143],[165.99,0.169],[166.17,0.231],[166.34,0.246],[166.49,0.231],[166.63,0.212],[166.77,0.25],[166.98,0.234],[167.21,0.232],[167.5,0.226],[167.78,0.231],[168.02,0.246],[168.13,0.185],[168.25,0.217],[168.48,0.2],[168.77,0.195],[169.06,0.189],[169.23,0.199],[169.4,0.22],[169.63,0.226],[169.71,0.291],[169.81,0.293],[169.86,0.26],[170,0.322],[170.12,0.359],[170.23,0.35],[170.38,0.311],[170.56,0.28],[170.79,0.251],[171,0.231]
];

const rainfall: [number, number][] = [
[0.08,8.9],[0.2,9.7],[0.32,13.5],[0.46,13.0],[0.64,0.2],[0.83,0.5],[4.74,0.3],[4.83,3.3],[4.97,0.5],[5.11,0.5],[7.3,0.3],[7.45,0.5],[7.59,1.5],[7.8,1.3],[7.95,1.5],[8.09,0.5],[8.2,4.3],[8.34,3.3],[8.46,6.4],[8.61,3.1],[8.72,3.3],[8.86,2.1],[9.21,3.0],[9.34,1.0],[9.59,0.25],[9.84,0.5],[9.94,5.4],[10.08,5.1],[10.19,3.3],[10.34,4.6],[10.49,0.5],[10.83,0.2],[10.95,0.5],[11.32,0.2],[11.46,1.0],[11.58,2.3],[11.7,1.0],[11.84,2.6],[11.96,0.3],[12.07,1.3],[12.2,9.2],[12.34,3.1],[12.46,1.0],[12.59,1.3],[12.71,5.9],[12.82,4.3],[13.81,1.0],[13.92,1.8],[14.06,9.7],[14.21,24.2],[14.33,7.9],[14.48,0.1],
[16.06,0.1],[16.29,1.5],[16.44,6.4],[16.58,2.1],[17.45,4.1],[17.56,7.6],[17.71,0.3],[17.95,1.0],[18.06,0.8],[18.2,0.8],[18.34,7.4],[18.45,4.3],[18.57,1.0],[18.7,3.3],[18.84,0.3],[18.95,1.5],[19.47,3.6],[19.59,1.3],[19.72,2.8],[19.84,0.5],[19.96,3.0],[20.07,3.5],[20.2,14.0],[20.34,0.8],[20.45,3.8],[20.57,0.3],[20.71,0.5],[20.82,3.3],[20.97,0.8],[21.09,1.5],[21.23,0.5],[21.38,0.25],[21.49,0.2],[22.53,0.25],[23.72,0.8],[25.1,0.8],[25.19,2.8],[25.33,8.9],[25.46,12.2],[25.59,11.9],[25.71,7.9],[25.85,8.1],[25.98,3.3],[26.11,0.8],[26.23,1.0],[26.4,1.0],[26.58,3.0],[26.71,1.8],[26.83,3.3],[26.98,1.0],[27.19,1.5],[27.33,0.8],[27.44,4.1],[27.58,4.6],[27.71,2.3],[27.85,1.3],[27.96,3.8],[28.08,2.8],[28.22,3.0],[28.56,0.3],[28.69,1.0],[28.83,1.5],[28.97,5.9],[29.1,5.9],[29.23,4.8],[29.35,3.8],[29.46,1.3],[29.6,1.0],[29.72,0.3],[29.85,0.8],[29.96,1.0],[30.22,6.1],[30.33,5.4],[30.48,1.8],
[32.82,0.1],[32.96,0.5],[33.08,1.0],[33.2,6.6],[33.34,0.5],[33.59,0.3],[33.97,0.3],[34.2,1.5],[34.34,2.8],[34.46,0.3],[34.59,1.8],[40.1,0.2],[40.21,2.6],[40.35,3.8],[40.47,0.8],[40.93,0.8],[41.08,1.3],[41.22,0.5],[41.58,0.5],[41.83,1.3],[42.0,1.0],[42.33,0.5],[42.43,0.8],[42.58,2.3],[42.7,0.8],[42.83,1.3],[42.95,4.6],[43.08,8.1],[43.22,7.9],[43.35,9.2],[43.47,4.8],[43.62,2.6],[43.97,0.3],[44.31,0.8],[44.46,7.4],[44.6,5.9],[44.72,5.4],[44.86,6.1],[44.97,0.5],[45.2,1.0],[45.32,2.6],[45.47,2.1],
[47.96,0.1],[49.43,0.5],[49.6,0.8],[50.32,0.1],[50.46,0.5],[50.61,0.3],[50.84,1.0],[50.96,0.5],[51.1,3.8],[51.21,2.6],[51.34,3.8],[51.47,5.1],[51.58,8.6],[51.71,12.7],[51.85,1.3],[51.96,2.8],[52.11,1.8],[52.23,1.3],[52.35,2.1],[52.48,1.8],[52.72,3.8],[52.84,3.8],[52.96,0.8],[53.1,2.3],[53.29,0.25],[53.48,0.25],[53.62,0.25],[53.73,2.1],[53.85,0.5],[53.96,1.0],[54.08,0.5],[54.22,5.4],[54.37,4.1],[54.48,0.25],[54.74,1.3],[54.85,1.0],[55.0,0.3],[55.12,0.3],[55.72,2.3],[55.85,11.9],[55.99,2.8],[56.1,0.5],[56.22,0.8],[56.36,1.3],[56.48,0.8],[56.62,1.2],[56.71,1.8],[56.85,0.8],[56.99,0.25],[61.47,0.1],[61.82,0.8],[61.99,0.1],
[64.42,0.1],[65.92,0.25],[66.07,0.5],[66.21,0.8],[66.39,0.5],[66.58,4.8],[66.73,5.4],[66.87,3.8],[66.99,2.6],[67.11,3.0],[67.23,6.1],[67.37,4.1],[67.48,2.1],[67.6,1.3],[67.74,1.8],[67.85,1.0],[67.97,0.5],[68.11,2.8],[68.23,3.8],[68.37,2.8],[68.5,0.8],[68.72,0.3],[68.84,0.5],[68.95,0.8],[69.1,1.0],[69.22,0.5],[69.36,1.5],[69.47,0.5],[69.6,1.0],[69.71,2.1],[72.11,0.1],[72.22,0.3],[72.34,0.5],[72.48,2.6],[72.6,0.3],[72.72,1.3],[72.86,4.1],[72.97,3.3],[73.11,1.0],[73.24,0.5],[73.38,0.25],[73.95,0.25],[74.09,3.5],[74.21,8.1],[74.36,3.3],[74.47,2.3],[74.61,2.3],[74.74,0.5],[75.46,0.25],[75.59,0.5],[75.74,0.25],[75.84,1.0],[75.98,0.3],[76.11,0.8],[76.23,0.3],[76.35,0.5],[76.47,0.8],[76.61,0.25],
[83.43,0.1],[83.63,0.2],[83.86,0.5],[84.01,0.1],[84.24,0.25],[84.72,0.1],[85.72,0.8],[85.86,1.0],[86.09,0.3],[86.24,0.5],[86.72,2.6],[86.87,1.0],[86.98,1.3],[87.1,2.1],[87.24,3.3],[87.34,0.3],[87.47,0.5],[87.59,0.8],[87.86,0.8],[88.11,0.8],[88.23,0.25],[88.36,1.2],[90.02,0.1],[90.21,0.25],[90.34,4.3],[90.48,8.6],[90.62,4.3],[90.73,2.3],[90.86,1.3],[91.06,0.25],[91.19,0.3],[91.37,2.3],[91.5,2.1],[91.63,1.5],[91.73,1.0],[91.86,0.3],[92.1,0.5],[92.25,1.8],[92.48,0.3],[92.73,3.3],[92.88,4.3],[93.0,2.3],[93.11,3.0],[93.25,2.6],[93.37,1.0],[93.48,4.3],
[93.63,1.5],[93.75,0.8],[93.87,2.8],[94.0,0.3],[95.56,0.1],[95.74,2.1],[95.88,0.3],[96.03,0.1],[97.2,0.3],[97.36,0.3],[97.47,1.3],[97.61,1.5],[97.72,0.3],[97.84,1.5],[98.11,2.1],[98.24,0.3],[98.68,0.1],[98.83,0.3],[98.97,4.3],[99.11,1.0],[99.26,0.3],[101.98,3.0],[102.13,1.5],[102.24,1.0],[102.38,0.8],[102.98,0.25],[104.11,0.3],[104.46,0.1],[105.36,0.5],[105.48,2.8],[105.71,0.3],[105.85,1.3],[105.99,3.0],[106.1,0.5],[106.23,0.8],[106.34,1.8],[106.57,0.1],[106.71,0.3],[106.86,1.8],[107.0,1.0],[107.35,0.8],[107.5,0.3],[107.73,0.5],[108.1,0.8],[108.71,0.3],[108.87,0.8],[108.99,0.3],[109.12,1.3],
[109.23,1.3],[109.37,1.3],[109.6,0.3],[109.84,0.8],[109.99,3.3],[110.12,1.0],[110.24,0.25],[110.36,1.3],[110.49,2.3],[110.61,6.4],[110.74,1.8],[110.88,1.8],[111.01,1.5],[111.13,0.5],[111.25,2.1],[111.36,3.3],[111.49,3.5],[111.63,1.8],[111.74,4.1],[111.88,1.3],[111.96,0.8],[112.11,1.8],[112.26,1.3],[112.49,0.5],[112.61,1.3],[112.72,4.3],[112.87,2.1],[113.01,0.8],[113.15,0.5],[113.27,0.5],[113.61,0.5],[113.74,0.3],[113.88,1.5],[114.0,0.5],[114.11,2.1],[114.26,8.6],[114.36,0.3],[114.49,1.5],[114.75,0.25],[114.86,0.8],[115.0,1.0],[115.13,0.8],[115.5,4.8],[115.61,3.8],[115.73,4.3],[115.88,7.4],[115.99,10.9],[116.13,3.3],[116.25,2.1],[116.36,5.9],[116.48,7.6],[116.62,2.1],[116.77,0.25],[116.88,0.3],[117.0,0.8],[117.5,1.0],[117.61,2.1],[117.75,2.3],[118.21,0.1],[118.73,0.5],[121.47,0.65],[121.62,1.3],[121.76,0.5],[121.87,1.3],[122.0,1.3],[122.12,0.5],[122.26,0.5],[122.37,0.8],[122.74,0.3],[122.98,2.3],[123.12,0.8],[123.24,2.1],[123.49,0.5],[123.64,0.5],[123.78,0.25],[123.99,1.3],[124.1,0.5],[124.22,0.8],[124.37,1.0],[124.72,0.8],
[124.86,0.8],[124.97,0.5],[125.12,1.8],[125.26,0.8],[125.38,1.5],[126.71,1.3],[126.86,0.5],[127.0,1.0],[127.11,0.8],[127.25,0.8],[127.36,0.3],[127.61,0.3],[128.09,1.8],[128.24,12.2],[128.36,8.9],[128.5,0.8],[128.61,0.3],[128.75,1.8],[128.87,1.0],[128.99,0.3],[130.11,0.25],[130.23,2.8],[130.37,2.6],[130.5,0.5],[130.63,1.0],[131.87,1.8],[132.02,1.3],[132.11,0.5],[132.25,3.8],[132.39,2.3],[133.1,0.8],[133.23,2.1],[133.37,0.5],[133.49,0.3],[133.64,1.0],[133.87,0.3],[134.01,1.8],[134.25,0.8],[134.37,0.3],[134.51,4.3],[134.62,2.6],[134.74,3.3],[134.89,4.8],[135.03,1.5],[135.14,1.0],[135.26,5.1],[135.37,2.8],[135.63,0.8],[135.75,0.3],[135.87,0.5],[135.98,1.3],[136.5,0.25],[137.37,0.65],[137.49,1.8],[137.62,4.1],[137.76,3.6],[137.88,3.0],[138.01,0.9],[138.24,2.1],[138.38,1.3],[138.49,2.3],[138.63,0.3],[138.75,1.5],[138.87,0.25],[139.38,0.4],[139.65,0.3],[139.76,2.6],[139.88,1.5],[140.02,3.6],[140.13,0.8],
[140.46,0.1],[140.72,4.8],[140.89,6.8],[141.01,2.1],[141.15,0.5],[141.36,0.5],[141.5,0.3],[141.64,1.5],[141.76,1.5],[141.88,0.8],[142.02,0.5],[142.13,0.3],[142.36,0.3],[142.51,0.8],[146.12,0.1],[146.41,0.1],[146.75,0.1],[147.01,0.5],[147.51,0.8],[147.88,0.5],[148.12,0.3],[148.26,1.8],[151.26,0.1],[151.49,0.3],[151.61,0.5],[151.76,7.9],[151.87,4.1],[152.01,2.6],[152.13,0.5],[152.24,0.3],[152.38,1.0],[152.5,1.5],[152.62,1.5],[152.76,0.5],[152.88,0.5],[153.02,1.0],[153.25,1.3],[153.4,0.8],[153.57,0.1],
[157.62,0.1],[165.36,0.3],[165.62,2.6],[165.76,0.5],[165.99,2.3],[166.13,3.6],[166.25,1.0],[166.49,1.3],[166.61,3.0],[166.75,3.6],[166.9,0.3],[167.06,0.3],[167.27,0.1],[168.02,0.3],[169.09,0.8],[169.26,3.3],[169.38,2.8],[169.52,1.3],[169.63,1.0],[169.77,0.5],[169.89,0.8],[170.0,0.8],[170.12,0.5],[170.25,0.5],[170.5,0.3]
];

const FONT = "DejaVu Sans";
const BLUE = "#4169E1";

export default function App() {
  const ref = useRef<HTMLDivElement>(null);
  useEffect(() => {
    document.body.style.margin = "0";
    const chart = echarts.init(ref.current!, null, { renderer: "svg" });
    chart.setOption({
      animation: false,
      backgroundColor: "#ffffff",
      textStyle: { fontFamily: FONT },
      grid: {
        left: 201, right: 136, top: 25, bottom: 98,
        show: true, borderColor: "#000", borderWidth: 2.5, backgroundColor: "transparent",
        containLabel: false,
      },
      legend: {
        left: 1874, top: 29, padding: 0,
        itemWidth: 57, itemHeight: 5, itemGap: 51,
        icon: "rect",
        textStyle: { fontFamily: FONT, fontSize: 26.5, color: "#000", padding: [0, 0, 0, 15], lineHeight: 30 },
        data: [
          { name: "Max PP", itemStyle: { color: "#008000" } },
          { name: "Observed Pressures", itemStyle: { color: "#000000" } },
        ],
      },
      xAxis: {
        type: "value", min: 0, max: 171,
        axisLine: { show: false, onZero: false },
        splitLine: { show: false },
        axisTick: { show: true, length: 11, lineStyle: { color: "#000", width: 2.5 }, customValues: monthTickDays },
        axisLabel: {
          customValues: monthTickDays, margin: 22, fontFamily: FONT, fontSize: 41, color: "#000",
          formatter: (v: number) => monthTickLabels[monthTickDays.indexOf(Math.round(v))] ?? "",
        },
      },
      yAxis: [
        {
          type: "value", min: -0.3, max: 0.7, position: "left",
          name: "Max Suction (kPa)", nameLocation: "middle", nameGap: 136, nameRotate: 90,
          nameTextStyle: { fontFamily: FONT, fontSize: 35, color: "#000" },
          axisLine: { show: false },
          splitLine: { show: false },
          axisTick: { show: true, length: 11, lineStyle: { color: "#000", width: 2.5 }, customValues: leftTicks },
          axisLabel: {
            customValues: leftTicks, margin: 22, fontFamily: FONT, fontSize: 41, lineHeight: 40, color: "#000",
            formatter: (v: number) => (v < -1e-9 ? "\u2212" : "") + Math.abs(v).toFixed(1),
          },
        },
        {
          type: "value", min: 0, max: 40, interval: 5, position: "right",
          name: "Rainfall (mm)", nameLocation: "middle", nameGap: 85, nameRotate: 90,
          nameTextStyle: { fontFamily: FONT, fontSize: 35, color: BLUE },
          axisLine: { show: false },
          splitLine: { show: false },
          axisTick: { show: true, length: 11, lineStyle: { color: "#000", width: 2.5 }, customValues: rightTicks },
          axisLabel: { margin: 22, fontFamily: FONT, fontSize: 41, lineHeight: 40, color: BLUE, customValues: rightTicks },
        },
      ],
      series: [
        {
          name: "Rainfall", type: "bar", yAxisIndex: 1, data: rainfall,
          barWidth: 4.4, itemStyle: { color: BLUE, opacity: 0.8 }, z: 1,
        },
        {
          name: "Max PP", type: "line", yAxisIndex: 0, data: maxPP,
          showSymbol: false, symbol: "none", lineStyle: { color: "#008000", width: 5.8 }, itemStyle: { color: "#008000" }, z: 3,
        },
        {
          name: "Observed Pressures", type: "line", yAxisIndex: 0, data: observedPressures,
          showSymbol: false, symbol: "none", lineStyle: { color: "#000000", width: 4 }, itemStyle: { color: "#000000" }, z: 4,
        },
      ],
    });
    return () => chart.dispose();
  }, []);
  return <div ref={ref} style={{ position: "fixed", left: 0, top: 0, width: 4096, height: 1552 }} />;
}
